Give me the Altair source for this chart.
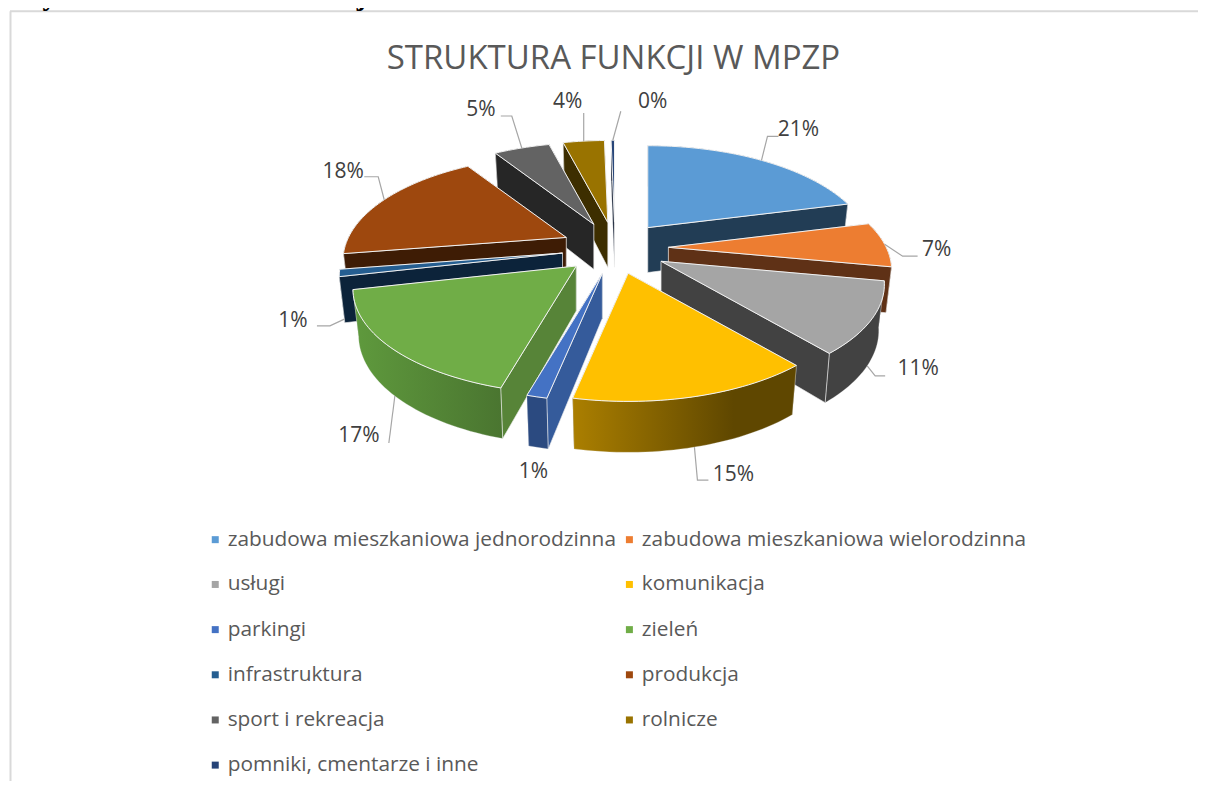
import math
import altair as alt
import pandas as pd

# ---------- data ----------
categories = ["zabudowa mieszkaniowa jednorodzinna", "zabudowa mieszkaniowa wielorodzinna",
              "usługi", "komunikacja", "parkingi", "zieleń", "infrastruktura",
              "produkcja", "sport i rekreacja", "rolnicze", "pomniki, cmentarze  i inne"]
shares = [21.0, 7.0, 10.9, 14.3, 1.2, 17.0, 1.1, 18.5, 5.0, 3.7, 0.3]
share_labels = ["21%", "7%", "11%", "15%", "1%", "17%", "1%", "18%", "5%", "4%", "0%"]
chart_title = "STRUKTURA FUNKCJI W MPZP"
page_heading = "Wykres 16. Struktura funkcji w MPZP"

# ---------- style ----------
top_colors = ["#5B9BD5", "#ED7D31", "#A5A5A5", "#FFC000", "#4472C4", "#70AD47",
              "#255E91", "#9E480E", "#636363", "#997300", "#264478"]
radial_colors = ["#223D55", "#5F3116", "#424242", "#5F4700", "#355B9B", "#578438",
                 "#0C233A", "#3E1C05", "#262626", "#3D2E00", "#0F1B30"]
def grad(stops):
    return alt.LinearGradient(gradient="linear", x1=0, x2=1, y1=0, y2=0,
                              stops=[alt.GradientStop(color=c, offset=o) for c, o in stops])
outer_fills = list(radial_colors)
outer_fills[3] = grad([("#AB7F00", 0), ("#5F4700", 0.72), ("#5F4700", 1)])
outer_fills[5] = grad([("#5F9A3D", 0), ("#4A7530", 1)])
outer_fills[4] = "#2B4A80"
TXT = "#595959"
FONT = "Open Sans"

# ---------- projection of the exploded tilted pie ----------
CX, CY, EX, EY, A, B, P, D, SHRINK = 615.5, 248, 53.5, 26, 218, 100, 0.22, 45, 0.975

def persp(v):
    return 1 / (1 - P * v)

def rim(apex, deg, bottom=False):
    t = math.radians(deg)
    u, v = math.sin(t), -math.cos(t)
    s = persp(v)
    dx, dy = A * u * s, B * v * s
    if bottom:
        return apex[0] + dx * SHRINK, apex[1] + dy + D * math.sqrt(s)
    return apex[0] + dx, apex[1] + dy

edges = [0]
for sh in shares:
    edges.append(edges[-1] + sh * 3.6)

def apex_of(i):
    b = math.radians((edges[i] + edges[i + 1]) / 2)
    return CX + EX * math.sin(b), CY - EY * math.cos(b)

def arc_angles(a0, a1):
    n = max(2, int((a1 - a0) / 1.5))
    return [a0 + (a1 - a0) * k / n for k in range(n + 1)]

PW, PH = 1191, 773
XS = alt.Scale(domain=[8, 8 + PW], nice=False, zero=False)
YS = alt.Scale(domain=[8 + PH, 8], nice=False, zero=False)

def face_chart(points, fill, stroke, width, sop=1.0):
    df = pd.DataFrame({"x": [p[0] for p in points], "y": [p[1] for p in points], "i": range(len(points))})
    return alt.Chart(df).mark_line(fill=fill, stroke=stroke, strokeWidth=width, strokeOpacity=sop,
                                   interpolate="linear-closed", strokeJoin="round").encode(
        x=alt.X("x:Q", scale=XS, axis=None), y=alt.Y("y:Q", scale=YS, axis=None), order="i:Q")

layers = []
# off-canvas squares only feed the legend
leg_df = pd.DataFrame({"c": categories})
layers.append(alt.Chart(leg_df).mark_square(size=49, opacity=1).encode(
    x=alt.value(-60), y=alt.value(-60),
    color=alt.Color("c:N", scale=alt.Scale(domain=categories, range=top_colors),
        legend=alt.Legend(title=None, orient="none", legendX=197, legendY=521, columns=2,
                          direction="horizontal",
                          symbolType="square", symbolSize=49, symbolStrokeWidth=0,
                          labelFont=FONT, labelFontSize=20.85, labelColor=TXT, labelLimit=500,
                          labelOffset=2, rowPadding=23.2, columnPadding=2.5, gridAlign="all"))))

order_idx = sorted(range(len(shares)),
                   key=lambda i: -math.cos(math.radians((edges[i] + edges[i + 1]) / 2)))
EDGE = "#EDEDED"
for i in order_idx:
    ap = apex_of(i)
    apb = (ap[0], ap[1] + D)
    a0, a1 = edges[i], edges[i + 1]
    def radial(deg):
        return [ap, rim(ap, deg), rim(ap, deg, True), apb]
    n0 = -math.cos(math.radians(a0 - 90))
    n1 = -math.cos(math.radians(a1 + 90))
    back = [d for n, d in ((n0, a0), (n1, a1)) if n <= 0.02]
    front = [d for n, d in ((n0, a0), (n1, a1)) if n > 0.02]
    for d in back:
        layers.append(face_chart(radial(d), radial_colors[i], EDGE, 0.8, 0.5))
    angs = arc_angles(a0, a1)
    outer = [rim(ap, d) for d in angs] + [rim(ap, d, True) for d in reversed(angs)]
    layers.append(face_chart(outer, outer_fills[i], EDGE, 0.8, 0.35))
    for d in front:
        layers.append(face_chart(radial(d), radial_colors[i], EDGE, 0.8, 0.8))
    layers.append(face_chart([ap] + [rim(ap, d) for d in angs], top_colors[i], "#F2F2F2", 1))

# ---------- leaders and labels, placed relative to each slice's rim ----------
use_bottom = [False, False, True, True, True, True, True, False, False, False, False]
leader_off = [[(6, -24), (17, -24)], [(18, 12), (33, 12)], [(8, 10), (18, 10)], [(3, 33), (14, 33)],
              [], [(-6, 47)], [(-15, 7), (-28, 7)], [(-6, -23), (-20, -23)],
              [(-10, -32), (-21, -32)], [(0, -28)], [(8, -29)]]
label_off = [(37, -30), (52, 6), (51, 3), (39, 28), (-5, 24), (-36, 40), (-52, 2), (-41, -28),
             (-41, -38), (-16, -39), (40, -38)]
lab_rows = []
for i in range(len(shares)):
    ap = apex_of(i)
    anchor = rim(ap, (edges[i] + edges[i + 1]) / 2, use_bottom[i])
    lab_rows.append({"x": anchor[0] + label_off[i][0], "y": anchor[1] + label_off[i][1], "t": share_labels[i]})
    if leader_off[i]:
        pts = [anchor] + [(anchor[0] + o[0], anchor[1] + o[1]) for o in leader_off[i]]
        df = pd.DataFrame({"x": [p[0] for p in pts], "y": [p[1] for p in pts], "i": range(len(pts))})
        layers.append(alt.Chart(df).mark_line(color="#A6A6A6", strokeWidth=1.2).encode(
            x=alt.X("x:Q", scale=XS, axis=None), y=alt.Y("y:Q", scale=YS, axis=None), order="i:Q"))

layers.append(alt.Chart(pd.DataFrame(lab_rows)).mark_text(
    font=FONT, fontSize=21, color="#404040", baseline="middle", align="center").encode(
    x=alt.X("x:Q", scale=XS, axis=None), y=alt.Y("y:Q", scale=YS, axis=None), text="t:N"))

# ---------- title, frame and the heading clipped by the page top ----------
layers.append(alt.Chart(pd.DataFrame({"t": [chart_title]})).mark_text(
    font=FONT, fontSize=33, color=TXT, baseline="middle", align="center").encode(
    x=alt.value(606), y=alt.value(51), text="t:N"))
layers.append(alt.Chart(pd.DataFrame({"a": [0]})).mark_rule(color="#D9D9D9", strokeWidth=2).encode(
    x=alt.value(2), x2=alt.value(1198), y=alt.value(3)))
layers.append(alt.Chart(pd.DataFrame({"a": [0]})).mark_rule(color="#D9D9D9", strokeWidth=2).encode(
    x=alt.value(2.5), y=alt.value(3), y2=alt.value(781)))
layers.append(alt.Chart(pd.DataFrame({"t": [page_heading]})).mark_text(
    font="Liberation Serif", fontSize=28.5, fontWeight="bold", color="#000000",
    align="left", baseline="alphabetic").encode(
    x=alt.value(7), y=alt.value(-3.5), text="t:N"))

chart = alt.layer(*layers).properties(
    width=PW, height=PH, autosize=alt.AutoSizeParams(type="none"), padding=0,
    background="white",
).resolve_scale(x="shared", y="shared").configure_view(stroke=None)

chart.save("out.html", embed_options={"renderer": "svg", "actions": False})
